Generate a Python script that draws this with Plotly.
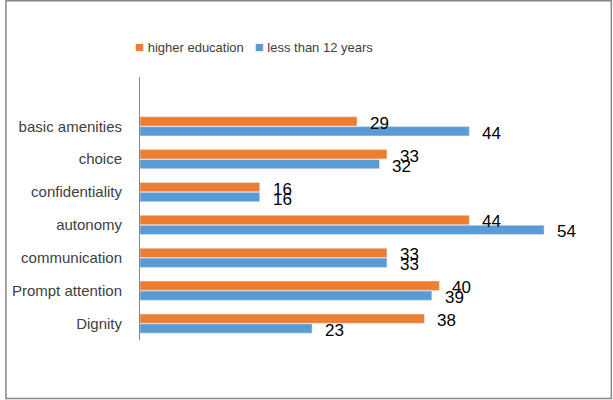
import plotly.graph_objects as go

categories = ["basic amenities", "choice", "confidentiality", "autonomy",
              "communication", "Prompt attention", "Dignity"]
higher_education = [29, 33, 16, 44, 33, 40, 38]
less_than_12 = [44, 32, 16, 54, 33, 39, 23]
series_names = ["higher education", "less than 12 years"]

ORANGE = "#ED7D31"
BLUE = "#5B9BD5"
FONT = "Liberation Sans"

fig = go.Figure()
fig.add_trace(go.Bar(y=categories, x=less_than_12, orientation="h",
                     name=series_names[1], marker_color=BLUE, showlegend=False))
fig.add_trace(go.Bar(y=categories, x=higher_education, orientation="h",
                     name=series_names[0], marker_color=ORANGE, showlegend=False))

annotations = []
for cat, v in zip(categories, higher_education):
    annotations.append(dict(x=v, y=cat, xref="x", yref="y", text=str(v),
                            showarrow=False, xanchor="left", yanchor="middle",
                            xshift=11, yshift=3,
                            font=dict(family=FONT, size=17, color="#000000")))
for cat, v in zip(categories, less_than_12):
    annotations.append(dict(x=v, y=cat, xref="x", yref="y", text=str(v),
                            showarrow=False, xanchor="left", yanchor="middle",
                            xshift=11, yshift=-7,
                            font=dict(family=FONT, size=17, color="#000000")))

W, H = 613, 400
L, R, T, B = 136, 24, 77, 60
pw, ph = W - L - R, H - T - B

# legend drawn as a single text line with coloured squares
sp = "\u00a0"
legend_text = (f"<span style='color:{ORANGE};font-size:15px'>■</span>{sp}{series_names[0]}{sp*3}"
               f"<span style='color:{BLUE};font-size:15px'>■</span>{sp}{series_names[1]}")
annotations.append(dict(x=(129 - L) / pw, y=(H - B - 47) / ph, xref="paper", yref="paper",
                        text=legend_text, showarrow=False, xanchor="left",
                        yanchor="middle",
                        font=dict(family=FONT, size=13, color="#404040")))

fig.update_layout(
    width=W, height=H,
    margin=dict(l=L, r=R, t=T, b=B),
    paper_bgcolor="white", plot_bgcolor="white",
    barmode="group", bargap=0.4, bargroupgap=0.06,
    font=dict(family=FONT, size=14, color="#404040"),
    showlegend=False,
    xaxis=dict(range=[0, 60], visible=False, fixedrange=True),
    yaxis=dict(type="category", categoryorder="array",
               categoryarray=list(reversed(categories)),
               range=[-0.5, 7.5], showline=True, linecolor="#868686", linewidth=1,
               showgrid=False, zeroline=False, ticks="",
               ticklabelstandoff=14,
               tickfont=dict(family=FONT, size=15, color="#404040")),
    annotations=annotations,
    shapes=[dict(type="rect", xref="paper", yref="paper",
                 x0=(0.75 - L) / pw, x1=(W - 1.5 - L) / pw,
                 y0=-(B - 1.5) / ph, y1=(H - B - 0.75) / ph,
                 line=dict(color="#878787", width=1.5))],
)

fig.write_html("out.html", config={"displayModeBar": False},
               post_script="document.body.style.margin='0';")
